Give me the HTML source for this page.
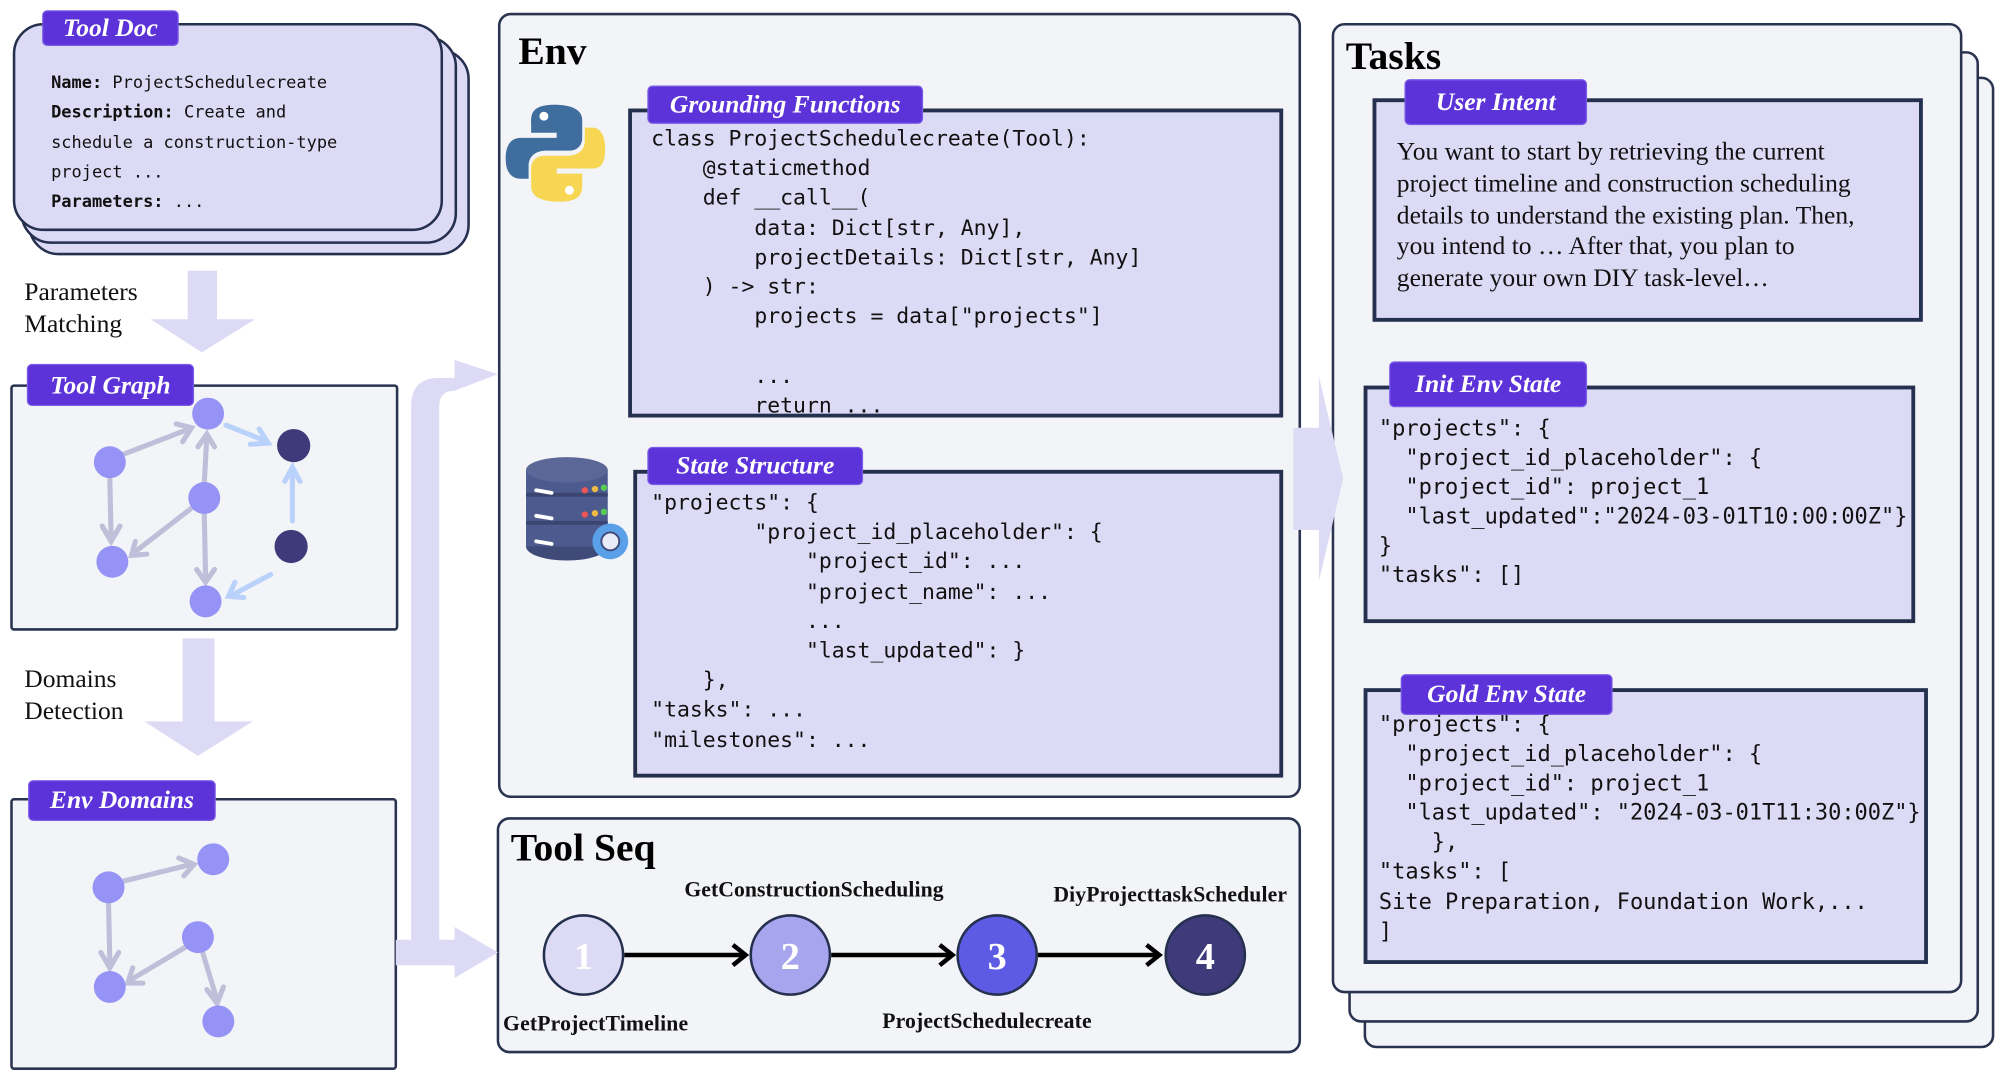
<!DOCTYPE html>
<html><head><meta charset="utf-8">
<style>
*{margin:0;padding:0;box-sizing:border-box}
html,body{width:2002px;height:1076px;overflow:hidden;background:#fff}
#s{position:absolute;left:0;top:0;width:1568px;height:843px;transform:scale(1.27679);transform-origin:0 0}
.a{position:absolute}
.panel{position:absolute;background:#f3f4f7;border:2px solid #2a3350;border-radius:10px}
.box{position:absolute;background:#dcdaf5;border:3px solid #25304f}
.lab{position:absolute;background:#5b33d9;color:#fff;font:italic bold 20px "Liberation Serif",serif;text-align:center;border-radius:4px;border:1px solid #7a5be6}
.mono{position:absolute;font-family:"DejaVu Sans Mono","Liberation Mono",monospace;color:#111;white-space:pre}
.ser{position:absolute;font-family:"Liberation Serif",serif;color:#111}
.title{position:absolute;font:bold 31px "Liberation Serif",serif;color:#000}
</style></head><body><div id="s">
<svg class="a" style="left:0;top:0" width="1568" height="843">
<g fill="#dddaf5">
<rect x="147" y="212" width="23" height="40"/><polygon points="118,250 200,250 158,276"/>
<rect x="143" y="500" width="25" height="66"/><polygon points="113,565 198,565 155,592"/>
<path d="M310,736 L322,736 L322,318 Q322,296 344,296 L356,296 L356,282 L390,293 L356,306 L356,306 Q344,306 344,318 L344,736 L356,736 L356,726 L390,746 L356,766 L356,756 L310,756 Z"/>
<polygon points="1013,335 1033,335 1033,295 1052,375 1033,455 1033,415 1013,415"/>
</g>
<g stroke="#bfbfd9" stroke-width="4" fill="none" stroke-linecap="round">
<line x1="96" y1="356" x2="148" y2="336"/><polyline points="138,332 150,335 143,346"/>
<line x1="86" y1="374" x2="87" y2="420"/><polyline points="80,412 87,424 94,412"/>
<line x1="160" y1="378" x2="162" y2="342"/><polyline points="155,350 162,340 168,350"/>
<line x1="150" y1="398" x2="106" y2="432"/><polyline points="106,424 103,435 115,434"/>
<line x1="160" y1="402" x2="161" y2="452"/><polyline points="154,446 161,456 168,446"/>
</g>
<g stroke="#b9d2fb" stroke-width="4" fill="none" stroke-linecap="round">
<line x1="177" y1="333" x2="207" y2="345"/><polyline points="196,348 210,347 203,336"/>
<line x1="229" y1="408" x2="229" y2="370"/><polyline points="223,377 229,366 235,377"/>
<line x1="212" y1="450" x2="182" y2="466"/><polyline points="184,456 179,467 191,468"/>
</g>
<g stroke="#bfbfd9" stroke-width="4" fill="none" stroke-linecap="round">
<line x1="97" y1="690" x2="150" y2="677"/><polyline points="140,672 152,677 144,686"/>
<line x1="85" y1="707" x2="86" y2="753"/><polyline points="79,746 86,758 93,746"/>
<line x1="145" y1="742" x2="103" y2="767"/><polyline points="104,758 100,770 112,770"/>
<line x1="159" y1="747" x2="169" y2="780"/><polyline points="162,775 170,786 175,773"/>
</g>
<g fill="#9593f5">
<circle cx="86" cy="362" r="12.5"/><circle cx="163" cy="324" r="12.5"/><circle cx="160" cy="390" r="12.5"/><circle cx="88" cy="440" r="12.5"/><circle cx="161" cy="471" r="12.5"/>
<circle cx="85" cy="695" r="12.5"/><circle cx="167" cy="673" r="12.5"/><circle cx="155" cy="734" r="12.5"/><circle cx="86" cy="773" r="12.5"/><circle cx="171" cy="800" r="12.5"/>
</g>
<g fill="#3f3b7a"><circle cx="230" cy="349" r="13"/><circle cx="228" cy="428" r="13"/></g>
</svg>

<div class="a" style="left:22px;top:38px;width:346px;height:162px;background:#dcdaf5;border:2px solid #25304f;border-radius:24px"></div>
<div class="a" style="left:16px;top:28px;width:342px;height:163px;background:#dcdaf5;border:2px solid #25304f;border-radius:24px"></div>
<div class="a" style="left:10px;top:18px;width:337px;height:163px;background:#dcdaf5;border:2px solid #25304f;border-radius:24px"></div>
<div class="lab" style="left:33px;top:8px;width:107px;height:28px;line-height:27px">Tool Doc</div>
<div class="mono" style="left:40px;top:54px;font-size:13.3px;line-height:23.3px"><b>Name:</b> ProjectSchedulecreate
<b>Description:</b> Create and
schedule a construction-type
project ...
<b>Parameters:</b> ...</div>
<div class="ser" style="left:19px;top:217px;font-size:20px;line-height:25px">Parameters<br>Matching</div>
<div class="ser" style="left:19px;top:520px;font-size:20px;line-height:25px">Domains<br>Detection</div>

<div class="a" style="left:8px;top:301px;width:304px;height:193px;border:2px solid #2a3350;border-radius:3px;background:#f3f4f7;z-index:-1"></div>
<div class="lab" style="left:21px;top:285px;width:131px;height:33px;line-height:32px">Tool Graph</div>
<div class="a" style="left:8px;top:625px;width:303px;height:213px;border:2px solid #2a3350;border-radius:3px;background:#f3f4f7;z-index:-1"></div>
<div class="lab" style="left:22px;top:611px;width:147px;height:32px;line-height:31px">Env Domains</div>

<div class="panel" style="left:390px;top:10px;width:629px;height:615px;z-index:-1"></div>
<div class="title" style="left:406px;top:22px">Env</div>
<svg class="a" style="left:396px;top:80px" width="80" height="80" viewBox="0 0 80 80">
<path d="M38,2 C20,2 20,10 20,16 L20,24 L40,24 L40,28 L12,28 C4,28 0,34 0,44 C0,54 4,60 12,60 L18,60 L18,50 C18,42 24,38 32,38 L50,38 C56,38 60,34 60,28 L60,14 C60,6 52,2 38,2 Z" fill="#3f6e9e"/>
<circle cx="30" cy="11" r="3.5" fill="#fff"/>
<path d="M42,78 C60,78 60,70 60,64 L60,56 L40,56 L40,52 L68,52 C76,52 78,46 78,36 C78,26 74,20 68,20 L62,20 L62,30 C62,38 56,42 48,42 L30,42 C24,42 20,46 20,52 L20,66 C20,74 28,78 42,78 Z" fill="#f6d652"/>
<circle cx="50" cy="69" r="3.5" fill="#fff"/>
</svg>
<div class="box" style="left:492px;top:85px;width:513px;height:242px"></div>
<div class="lab" style="left:507px;top:67px;width:216px;height:30px;line-height:29px">Grounding Functions</div>
<div class="mono" style="left:510px;top:97px;font-size:16.8px;line-height:23.2px">class ProjectSchedulecreate(Tool):
    @staticmethod
    def __call__(
        data: Dict[str, Any],
        projectDetails: Dict[str, Any]
    ) -> str:
        projects = data["projects"]

        ...
        return ...</div>

<svg class="a" style="left:410px;top:356px" width="88" height="88" viewBox="0 0 88 88">
<ellipse cx="34" cy="72" rx="32" ry="11" fill="#3f4a78"/>
<rect x="2" y="12" width="64" height="60" fill="#4d5a8e"/>
<rect x="2" y="30" width="64" height="3" fill="#3a4570"/><rect x="2" y="52" width="64" height="3" fill="#3a4570"/>
<ellipse cx="34" cy="12" rx="32" ry="10" fill="#5b6796"/>
<g stroke="#fff" stroke-width="3" stroke-linecap="round"><line x1="10" y1="28" x2="22" y2="30"/><line x1="10" y1="48" x2="22" y2="50"/><line x1="10" y1="68" x2="22" y2="70"/></g>
<g><circle cx="48" cy="28" r="2.5" fill="#e55"/><circle cx="56" cy="27" r="2.5" fill="#eb4"/><circle cx="63" cy="26" r="2.5" fill="#5c5"/><circle cx="48" cy="47" r="2.5" fill="#e55"/><circle cx="56" cy="46" r="2.5" fill="#eb4"/><circle cx="63" cy="45" r="2.5" fill="#5c5"/></g>
<circle cx="68" cy="68" r="14" fill="#5aa0e8"/><circle cx="68" cy="68" r="7" fill="#e8ecf8" stroke="#3f4a78" stroke-width="1.5"/>
</svg>
<div class="box" style="left:496px;top:368px;width:509px;height:241px"></div>
<div class="lab" style="left:507px;top:350px;width:169px;height:30px;line-height:29px">State Structure</div>
<div class="mono" style="left:510px;top:382px;font-size:16.8px;line-height:23.2px">"projects": {
        "project_id_placeholder": {
            "project_id": ...
            "project_name": ...
            ...
            "last_updated": }
    },
"tasks": ...
"milestones": ...</div>

<div class="panel" style="left:389px;top:640px;width:630px;height:185px;z-index:-1"></div>
<div class="title" style="left:400px;top:646px">Tool Seq</div>
<svg class="a" style="left:389px;top:640px" width="630" height="185">
<g stroke="#000" stroke-width="3.5" fill="none">
<line x1="100" y1="108" x2="194" y2="108"/><polyline points="185,100 195,108 185,116"/>
<line x1="262" y1="108" x2="356" y2="108"/><polyline points="347,100 357,108 347,116"/>
<line x1="424" y1="108" x2="518" y2="108"/><polyline points="509,100 519,108 509,116"/>
</g>
<g stroke="#25304f" stroke-width="2">
<ellipse cx="68" cy="108" rx="31" ry="31" fill="#dcdaf5"/>
<ellipse cx="230" cy="108" rx="31" ry="31" fill="#a7a5ee"/>
<ellipse cx="392" cy="108" rx="31" ry="31" fill="#5d5be3"/>
<ellipse cx="555" cy="108" rx="31" ry="31" fill="#3f3b7a"/>
</g>
<g fill="#fff" font-family="Liberation Serif,serif" font-weight="bold" font-size="30" text-anchor="middle">
<text x="68" y="119">1</text><text x="230" y="119">2</text><text x="392" y="119">3</text><text x="555" y="119">4</text>
</g>
<g fill="#111" font-family="Liberation Serif,serif" font-weight="bold" font-size="17">
<text x="5" y="167" textLength="145">GetProjectTimeline</text>
<text x="147" y="62" textLength="203">GetConstructionScheduling</text>
<text x="302" y="165" textLength="164">ProjectSchedulecreate</text>
<text x="436" y="66" textLength="183">DiyProjecttaskScheduler</text>
</g>
</svg>

<div class="panel" style="left:1068px;top:60px;width:494px;height:761px;z-index:-3"></div>
<div class="panel" style="left:1056px;top:40px;width:494px;height:761px;z-index:-2"></div>
<div class="panel" style="left:1043px;top:18px;width:494px;height:760px;z-index:-1"></div>
<div class="title" style="left:1054px;top:26px">Tasks</div>
<div class="box" style="left:1075px;top:77px;width:431px;height:175px"></div>
<div class="lab" style="left:1100px;top:62px;width:143px;height:36px;line-height:35px">User Intent</div>
<div class="ser" style="left:1094px;top:107px;font-size:20px;line-height:24.8px">You want to start by retrieving the current<br>project timeline and construction scheduling<br>details to understand the existing plan. Then,<br>you intend to … After that, you plan to<br>generate your own DIY task-level…</div>

<div class="box" style="left:1068px;top:302px;width:432px;height:186px"></div>
<div class="lab" style="left:1088px;top:283px;width:155px;height:36px;line-height:35px">Init Env State</div>
<div class="mono" style="left:1080px;top:325px;font-size:17.2px;line-height:23.1px">"projects": {
  "project_id_placeholder": {
  "project_id": project_1
  "last_updated":"2024-03-01T10:00:00Z"}
}
"tasks": []</div>

<div class="box" style="left:1068px;top:539px;width:442px;height:216px"></div>
<div class="lab" style="left:1097px;top:528px;width:166px;height:32px;line-height:31px">Gold Env State</div>
<div class="mono" style="left:1080px;top:557px;font-size:17.2px;line-height:23.1px">"projects": {
  "project_id_placeholder": {
  "project_id": project_1
  "last_updated": "2024-03-01T11:30:00Z"}
    },
"tasks": [
Site Preparation, Foundation Work,...
]</div>
</div></body></html>
